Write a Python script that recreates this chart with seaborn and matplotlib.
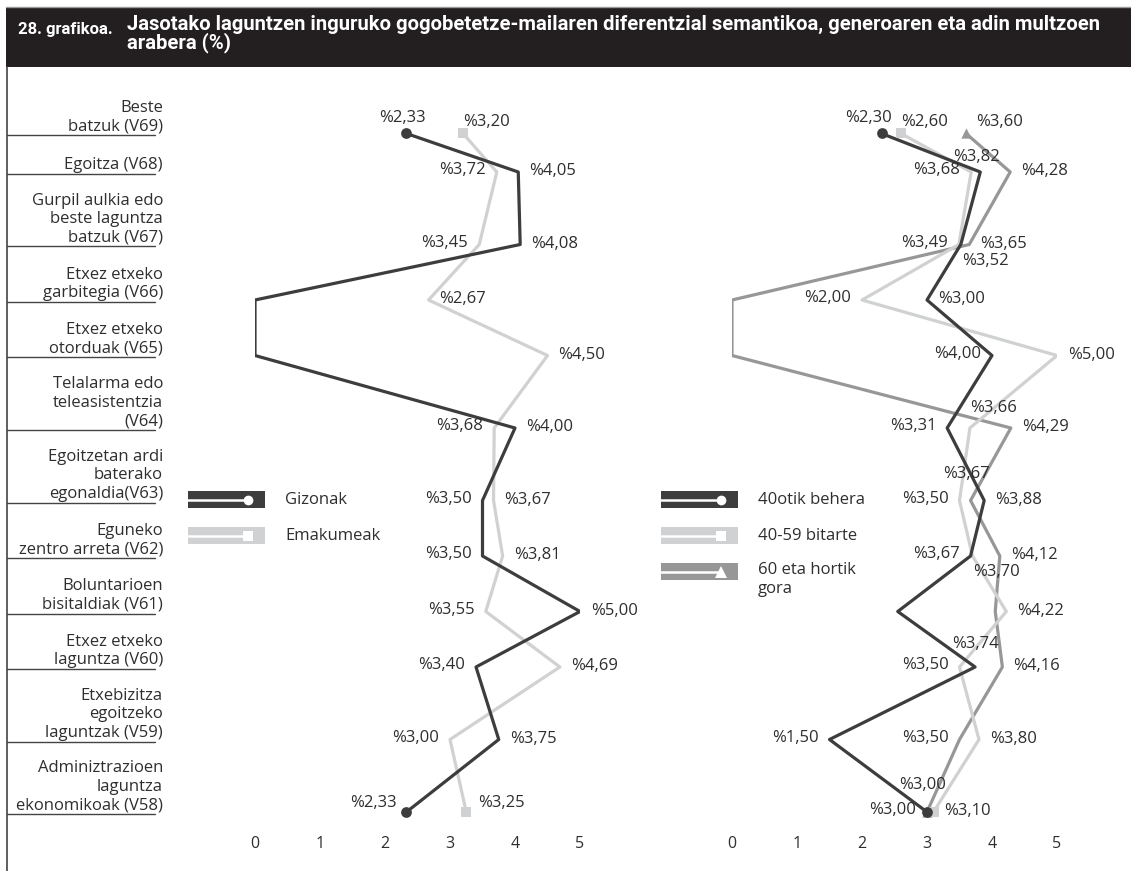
import numpy as np
import pandas as pd
import matplotlib
matplotlib.use("Agg")
import matplotlib.pyplot as plt
import seaborn as sns
from matplotlib.patches import Rectangle

# ---------------- data ----------------
categories = [
    "Beste\nbatzuk (V69)",
    "Egoitza (V68)",
    "Gurpil aulkia edo\nbeste laguntza\nbatzuk (V67)",
    "Etxez etxeko\ngarbitegia (V66)",
    "Etxez etxeko\notorduak (V65)",
    "Telalarma edo\nteleasistentzia\n(V64)",
    "Egoitzetan ardi\nbaterako\negonaldia(V63)",
    "Eguneko\nzentro arreta (V62)",
    "Boluntarioen\nbisitaldiak (V61)",
    "Etxez etxeko\nlaguntza (V60)",
    "Etxebizitza\negoitzeko\nlaguntzak (V59)",
    "Adminiztrazioen\nlaguntza\nekonomikoak (V58)",
]
gizonak = [2.33, 4.05, 4.08, 0.00, 0.00, 4.00, 3.50, 3.50, 5.00, 3.40, 3.75, 2.33]
emakumeak = [3.20, 3.72, 3.45, 2.67, 4.50, 3.68, 3.67, 3.81, 3.55, 4.69, 3.00, 3.25]
adina_40 = [2.30, 3.82, 3.52, 3.00, 4.00, 3.31, 3.88, 3.67, 2.55, 3.74, 1.50, 3.00]
adina_40_59 = [2.60, 3.68, 3.49, 2.00, 5.00, 3.66, 3.50, 3.70, 4.22, 3.50, 3.80, 3.10]
adina_60 = [3.60, 4.28, 3.65, 0.00, 0.00, 4.29, 3.67, 4.12, 4.05, 4.16, 3.50, 3.00]
x_ticks = [0, 1, 2, 3, 4, 5]
series_left = ["Gizonak", "Emakumeak"]
series_right = ["40otik behera", "40-59 bitarte", "60 eta hortik\ngora"]
title_num = "28. grafikoa."
title_text = ("Jasotako laguntzen inguruko gogobetetze-mailaren diferentzial semantikoa, generoaren eta adin multzoen\n"
              "arabera (%)")

# ---------------- label placement (style) ----------------
place = {
    "Gizonak":   ["U", "R", "R", None, None, "R", "L", "L", "R", "L", "R", "LU"],
    "Emakumeak": ["UR", "L", "L", "R", "R", "L", "R", "R", "L", "R", "L", "RU"],
    "40otik behera": ["UL", "U", "D", "R", "L", "L", "R", "L", None, "U2", "L", "L"],
    "40-59 bitarte": ["UR", "L", "L", "L", "R", "UR2", "L", "D", "R", "L", "R", "R"],
    "60 eta hortik\ngora": ["URx", "R", "R", None, None, "R", "U3", "R", None, "R", "L", "U3"],
}
offsets = {  # (dx px, dy px up, ha)
    "L": (-11, 2, "right"), "R": (11, 1, "left"),
    "LU": (-10, 9, "right"), "RU": (12, 9, "left"),
    "U": (-4, 15, "center"), "UL": (-13, 16, "center"),
    "U2": (0, 23, "center"), "U3": (-4, 27, "center"),
    "UR": (0, 12, "left"), "URx": (10, 12, "left"), "UR2": (0, 20, "left"),
    "D": (1, -16, "left"),
}

DARK, LIGHT, MID = "#3d3d3d", "#d0d1d2", "#979797"
TXT = "#2e2e2e"
colors = {"Gizonak": DARK, "Emakumeak": LIGHT,
          "40otik behera": DARK, "40-59 bitarte": LIGHT, "60 eta hortik\ngora": MID}
markers = {"Gizonak": "o", "Emakumeak": "s",
           "40otik behera": "o", "40-59 bitarte": "s", "60 eta hortik\ngora": "^"}

sns.set_theme(style="white")
plt.rcParams["font.family"] = ["Open Sans", "DejaVu Sans"]
NARROW = ["Roboto", "DejaVu Sans"]

W, H = 1131, 871
fig = plt.figure(figsize=(W / 100, H / 100), dpi=100)
fig.patch.set_facecolor("white")

bg = fig.add_axes([0, 0, 1, 1])
bg.set_xlim(0, W)
bg.set_ylim(H, 0)
bg.axis("off")

# row layout derived from the number of label lines
nlines = np.array([c.count("\n") + 1 for c in categories])
row_h = 21.5 + 17 * nlines
row_bottom = 80 + np.cumsum(row_h)
ypos = row_bottom - 2

# title band
bg.add_patch(Rectangle((6, 8), W - 6, 59, color="#231f20", lw=0))
bg.plot([6, W], [7.5, 7.5], color="#9a9a9a", lw=1)
bg.plot([6.5, 6.5], [67, H], color="#444444", lw=1.2)
bg.text(18, 34, title_num, color="white", fontsize=12, fontweight="bold",
        va="baseline", family=NARROW)
bg.text(127, 15, title_text, color="white", fontsize=14.6, fontweight="bold",
        va="top", linespacing=0.86, family=NARROW)

# row labels + separators
for cat, rb in zip(categories, row_bottom):
    bg.plot([7, 155], [rb, rb], color="#444444", lw=1)
    bg.text(163, rb - 1, cat, ha="right", va="bottom", fontsize=12,
            linespacing=1.2, color=TXT, multialignment="right")


def panel(x_left, names, values):
    ax = fig.add_axes([x_left / W, 0, 325 / W, 1])
    ax.set_xlim(0, 5)
    ax.set_ylim(H, 0)
    ax.axis("off")
    frames = [pd.DataFrame({"value": v, "y": ypos, "series": n}) for n, v in zip(names, values)]
    df = pd.concat(frames, ignore_index=True)
    order = names[::-1]
    sns.lineplot(data=df, x="value", y="y", hue="series", hue_order=order,
                 palette=colors, sort=False, estimator=None, orient="y",
                 lw=2.3, ax=ax, legend=False)
    for n in order:
        sub = df[df.series == n].iloc[[0, -1]]
        sns.scatterplot(data=sub, x="value", y="y", color=colors[n], marker=markers[n],
                        s=60 if markers[n] != "^" else 55, linewidth=0, ax=ax, zorder=4)
    for n, v in zip(names, values):
        for val, y, p in zip(v, ypos, place[n]):
            if p is None:
                continue
            dx, dy, ha = offsets[p]
            ax.annotate("%" + f"{val:.2f}".replace(".", ","), (val, y),
                        xytext=(dx * 0.72, dy * 0.72), textcoords="offset points",
                        ha=ha, va="center", fontsize=12, color=TXT, zorder=5)
    for t in x_ticks:
        ax.text(t, 844, str(t), ha="center", va="center", fontsize=11.5, color=TXT)
    ax.set_xlabel("")
    ax.set_ylabel("")
    return ax


panel(255, series_left, [gizonak, emakumeak])
panel(732, series_right, [adina_40, adina_40_59, adina_60])


def legend_item(x0, y0, name, tx):
    c = colors[name]
    bg.add_patch(Rectangle((x0, y0), 77, 17, color=c, lw=0))
    bg.plot([x0, x0 + 58], [y0 + 8.5, y0 + 8.5], color="white", lw=1.8)
    ms = 7 if markers[name] != "^" else 8
    bg.plot([x0 + 60], [y0 + 8.5], marker=markers[name], color="white", ms=ms, mew=0)
    bg.text(tx, y0 + 9, name, ha="left", va="center", fontsize=12, color=TXT)


legend_item(188, 491, "Gizonak", 285)
legend_item(188, 527, "Emakumeak", 285)
legend_item(661, 491, "40otik behera", 758)
legend_item(661, 527, "40-59 bitarte", 758)
bg.add_patch(Rectangle((661, 563), 77, 17, color=MID, lw=0))
bg.plot([661, 719], [571.5, 571.5], color="white", lw=1.8)
bg.plot([721], [571.5], marker="^", color="white", ms=8, mew=0)
bg.text(758, 562, series_right[2], ha="left", va="top", fontsize=12,
        color=TXT, linespacing=1.25)

fig.savefig("out.png", dpi=100, facecolor="white")
